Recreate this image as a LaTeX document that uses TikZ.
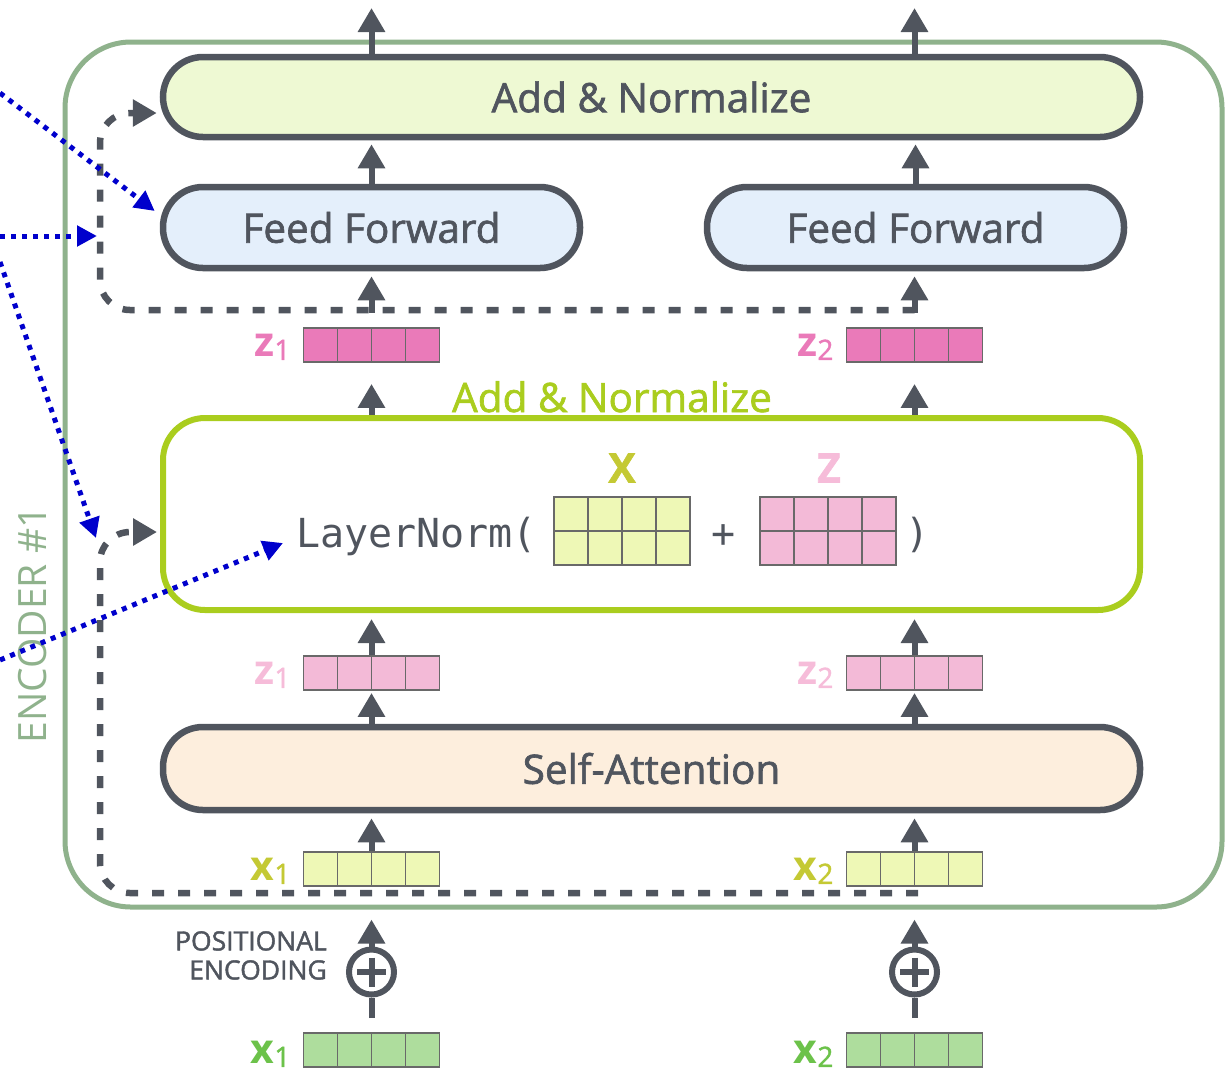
\documentclass[tikz,border=0pt]{standalone}
\usepackage{fontspec}
\setmainfont{Open Sans}[FakeBold=1.6]
\newfontfamily\labfont{Open Sans}
\newfontfamily\monofont{DejaVu Sans Mono}
\usetikzlibrary{arrows.meta,calc}
\definecolor{dark}{RGB}{80,85,94}
\definecolor{encgreen}{RGB}{143,178,140}
\definecolor{lngreen}{RGB}{170,205,30}
\definecolor{addfill}{RGB}{238,249,211}
\definecolor{fffill}{RGB}{228,239,251}
\definecolor{safill}{RGB}{253,238,221}
\definecolor{xyellow}{RGB}{238,248,182}
\definecolor{zdark}{RGB}{234,122,185}
\definecolor{zlight}{RGB}{243,186,215}
\definecolor{xgreen}{RGB}{174,221,157}
\definecolor{cellline}{RGB}{105,105,105}
\definecolor{xlab}{RGB}{196,201,52}
\definecolor{xglab}{RGB}{108,194,74}
\definecolor{zllab}{RGB}{246,188,217}
\definecolor{bluec}{RGB}{0,0,204}
\newcommand\mybig{\fontsize{40.5}{48}\selectfont}
\newcommand\mymono{\monofont\fontsize{40}{44}\selectfont}
\newcommand\myposfont{\fontsize{26.5}{29}\selectfont}
\newcommand\myenclab{\labfont\fontsize{39}{44}\selectfont}
\newcommand\vlab[2]{{\labfont\fontsize{41}{44}\selectfont\bfseries #1}{\fontsize{28}{30}\selectfont\raisebox{-3pt}{#2}}}
\begin{document}
\begin{tikzpicture}[x=1pt,y=-1pt,
  pill/.style={draw=dark, line width=6.5pt, rounded corners=40pt, inner sep=0pt, text=dark, font=\mybig},
  vecbox/.style={draw=cellline, line width=1.8pt, minimum width=136pt, minimum height=34pt, inner sep=0pt,
    path picture={\foreach \i in {1,2,3}{\draw[cellline,line width=1.8pt]
      ($(path picture bounding box.south west)!\i/4!(path picture bounding box.south east)$) --
      ($(path picture bounding box.north west)!\i/4!(path picture bounding box.north east)$);}}},
  matbox/.style={draw=cellline, line width=1.8pt, minimum width=136pt, minimum height=68pt, inner sep=0pt,
    path picture={\foreach \i in {1,2,3}{\draw[cellline,line width=1.8pt]
      ($(path picture bounding box.south west)!\i/4!(path picture bounding box.south east)$) --
      ($(path picture bounding box.north west)!\i/4!(path picture bounding box.north east)$);}
      \draw[cellline,line width=1.8pt] (path picture bounding box.west) -- (path picture bounding box.east);}},
  arr/.style={draw=dark, line width=6pt, -{Triangle[width=26pt,length=24pt]}},
  plainln/.style={draw=dark, line width=6pt},
  dashln/.style={draw=dark, line width=6.5pt, dash pattern=on 12pt off 14pt, rounded corners=30pt, -{Triangle[width=26pt,length=24pt]}},
  bluearr/.style={draw=bluec, line width=5pt, dash pattern=on 5pt off 6pt, -{Triangle[width=20pt,length=20pt]}},
  lbl/.style={anchor=base east, inner sep=0pt},
  plusc/.style={circle, draw=dark, line width=6pt, minimum size=45pt, inner sep=0pt,
    path picture={\draw[dark,line width=6pt]
      ($(path picture bounding box.center)+(-14.5,0)$) -- ($(path picture bounding box.center)+(14.5,0)$)
      ($(path picture bounding box.center)+(0,-14.5)$) -- ($(path picture bounding box.center)+(0,14.5)$);}}
]
\useasboundingbox (0,0) rectangle (1230,1072);
% encoder frame
\node[draw=encgreen, line width=5pt, rounded corners=66pt, minimum width=1157pt, minimum height=865pt, inner sep=0pt] (enc) at (643.5,474.5) {};
\node[rotate=90, font=\myenclab, text=encgreen, inner sep=0pt] (enclab) at (33,625) {ENCODER \#1};
% main boxes
\node[pill, fill=addfill, minimum width=977pt, minimum height=80pt] (add) at (651.5,97) {Add \& Normalize};
\node[pill, fill=fffill, minimum width=417pt, minimum height=81pt] (ff1) at (371.5,227.5) {Feed Forward};
\node[pill, fill=fffill, minimum width=417pt, minimum height=81pt] (ff2) at (915.5,227.5) {Feed Forward};
\node[draw=lngreen, line width=6pt, rounded corners=42pt, minimum width=977pt, minimum height=192pt, inner sep=0pt] (ln) at (651.5,514) {};
\node[pill, fill=safill, minimum width=977pt, minimum height=83pt] (sa) at (651.5,768.5) {Self-Attention};
% LayerNorm content
\node[anchor=base west, font=\mymono, text=dark, inner sep=0pt] (lnt) at (296,547) {LayerNorm(};
\node[matbox, fill=xyellow] (mx) at (622,531) {};
\node[matbox, fill=zlight] (mz) at (828,531) {};
\node[anchor=base, font=\mymono, text=dark, inner sep=0pt] (plus) at (724,547) {+};
\node[anchor=base, font=\mymono, text=dark, inner sep=0pt] (rpar) at (918,547) {)};
\node[font=\mybig\bfseries, text=xlab, inner sep=0pt] (xl) at (622,468) {X};
\node[font=\mybig\bfseries, text=zllab, inner sep=0pt] (zl) at (829,468) {Z};
\node[anchor=base, font=\mybig, text=lngreen, inner sep=0pt] (anl) at (612,412) {Add \& Normalize};
% vectors
\node[vecbox, fill=zdark] (z1a) at (371.5,345) {};
\node[vecbox, fill=zdark] (z2a) at (914.5,345) {};
\node[vecbox, fill=zlight] (z1b) at (371.5,673) {};
\node[vecbox, fill=zlight] (z2b) at (914.5,673) {};
\node[vecbox, fill=xyellow] (x1a) at (371.5,869) {};
\node[vecbox, fill=xyellow] (x2a) at (914.5,869) {};
\node[vecbox, fill=xgreen] (x1g) at (371.5,1050) {};
\node[vecbox, fill=xgreen] (x2g) at (914.5,1050) {};
% labels
\node[lbl, text=zdark] (lz1a) at ($(z1a.south west)+(-12,-6)$) {\vlab{z}{1}};
\node[lbl, text=zdark] (lz2a) at ($(z2a.south west)+(-12,-6)$) {\vlab{z}{2}};
\node[lbl, text=zllab] (lz1b) at ($(z1b.south west)+(-12,-6)$) {\vlab{z}{1}};
\node[lbl, text=zllab] (lz2b) at ($(z2b.south west)+(-12,-6)$) {\vlab{z}{2}};
\node[lbl, text=xlab] (lx1a) at ($(x1a.south west)+(-12,-6)$) {\vlab{x}{1}};
\node[lbl, text=xlab] (lx2a) at ($(x2a.south west)+(-12,-6)$) {\vlab{x}{2}};
\node[lbl, text=xglab] (lx1g) at ($(x1g.south west)+(-12,-4)$) {\vlab{x}{1}};
\node[lbl, text=xglab] (lx2g) at ($(x2g.south west)+(-12,-4)$) {\vlab{x}{2}};
% positional encoding
\node[plusc] (pe1) at (371.5,972) {};
\node[plusc] (pe2) at (914.5,972) {};
\node[align=right, anchor=north east, text=dark, font=\myposfont, inner sep=0pt] (pet) at (327,931) {POSITIONAL\\ENCODING};
% dashed residuals
\coordinate (d1r) at (914.5,310);
\coordinate (d1c) at (100,310);
\coordinate (d1t) at (100,113);
\coordinate (d2r) at (918,893);
\coordinate (d2c) at (100,893);
\coordinate (d2t) at (100,532);
\draw[dashln, shorten >=3pt] (d1r) -- (d1c) -- (d1t) -- (add.west |- d1t);
\draw[dashln, shorten >=3pt] (d2r) -- (d2c) -- (d2t) -- (ln.west |- d2t);
% arrows
\coordinate (o1) at (371.5,8);
\coordinate (o2) at (914.5,8);
\draw[arr] (o1 |- add.north) -- (o1);
\draw[arr] (o2 |- add.north) -- (o2);
\draw[arr, shorten >=4pt] (ff1.north) -- (ff1.north |- add.south);
\draw[arr, shorten >=4pt] (ff2.north) -- (ff2.north |- add.south);
\draw[arr, shorten <=14pt, shorten >=5pt] (z1a.north) -- (z1a.north |- ff1.south);
\draw[arr, shorten <=14pt, shorten >=5pt] (z2a.north) -- (z2a.north |- ff2.south);
\draw[arr, shorten >=21pt] (z1a.south |- ln.north) -- (z1a.south);
\draw[arr, shorten >=21pt] (z2a.south |- ln.north) -- (z2a.south);
\draw[arr, shorten >=6pt] (z1b.north) -- (z1b.north |- ln.south);
\draw[arr, shorten >=6pt] (z2b.north) -- (z2b.north |- ln.south);
\draw[arr, shorten >=2pt] (z1b.south |- sa.north) -- (z1b.south);
\draw[arr, shorten >=2pt] (z2b.south |- sa.north) -- (z2b.south);
\draw[arr, shorten >=5pt] (x1a.north) -- (x1a.north |- sa.south);
\draw[arr, shorten >=5pt] (x2a.north) -- (x2a.north |- sa.south);
\draw[arr, shorten >=10pt] (pe1.north) -- (pe1.north |- enc.south);
\draw[arr, shorten >=10pt] (pe2.north) -- (pe2.north |- enc.south);
\draw[plainln, shorten <=14pt] (x1g.north) -- (pe1.south);
\draw[plainln, shorten <=14pt] (x2g.north) -- (pe2.south);
% blue dotted arrows
\coordinate (b1s) at (0,93);
\coordinate (b2s) at (0,236);
\coordinate (b3s) at (0,262);
\coordinate (b4s) at (0,660);
\draw[bluearr] (b1s) -- ($(ff1.west)+(-5,-16.5)$);
\draw[bluearr, shorten >=3pt] (b2s) -- (d1c |- b2s);
\draw[bluearr] (b3s) -- ($(d2t)+(-4,6)$);
\draw[bluearr] (b4s) -- ($(lnt.base west)+(-13,-4)$);
\end{tikzpicture}
\end{document}
